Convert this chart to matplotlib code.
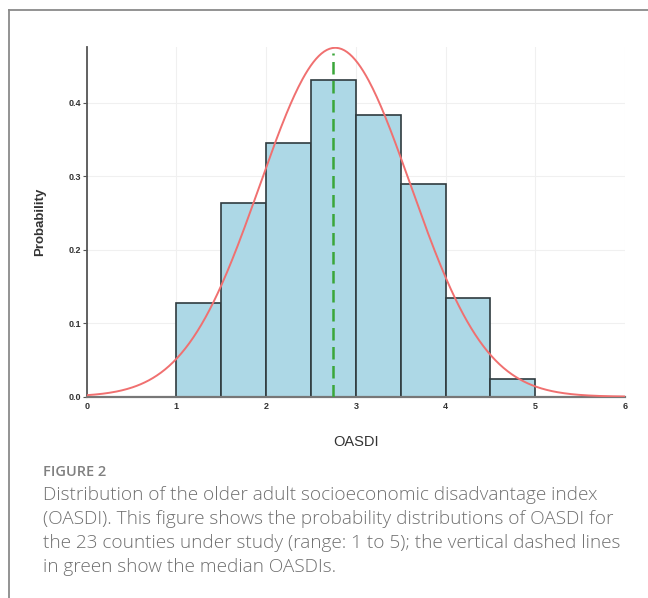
import numpy as np
import matplotlib
matplotlib.use("Agg")
import matplotlib.pyplot as plt
from matplotlib.lines import Line2D

# histogram of OASDI (probability density, bin width 0.5)
bin_edges = [1.0, 1.5, 2.0, 2.5, 3.0, 3.5, 4.0, 4.5, 5.0]
bin_heights = [0.128, 0.264, 0.346, 0.431, 0.384, 0.290, 0.134, 0.0245]

# fitted normal curve and median
fit_mean = 2.77
fit_sd = 0.84
median_oasdi = 2.75
median_line_top = 0.468

x_ticks = [0, 1, 2, 3, 4, 5, 6]
y_ticks = [0.0, 0.1, 0.2, 0.3, 0.4]

caption_head = "FIGURE 2"
caption_lines = [
    "Distribution of the older adult socioeconomic disadvantage index",
    "(OASDI). This figure shows the probability distributions of OASDI for",
    "the 23 counties under study (range: 1 to 5); the vertical dashed lines",
    "in green show the median OASDIs.",
]

W, H = 648, 598
fig = plt.figure(figsize=(W / 100, H / 100), dpi=100)
fig.patch.set_facecolor("white")

# card border (left + top)
fig.add_artist(Line2D([8.5 / W, 8.5 / W], [0, 1 - 10 / H], transform=fig.transFigure,
                      color="#8a8a8a", lw=1.3))
fig.add_artist(Line2D([8.5 / W, 1], [1 - 10 / H, 1 - 10 / H], transform=fig.transFigure,
                      color="#8a8a8a", lw=1.3))

left, right, top, bottom = 86.7, 625, 47, 396.7
ax = fig.add_axes([left / W, 1 - bottom / H, (right - left) / W, (bottom - top) / H])

widths = np.diff(bin_edges)
ax.bar(bin_edges[:-1], bin_heights, width=widths, align="edge",
       color="#add8e6", edgecolor="#2f3b3f", linewidth=1.2, zorder=2)

xs = np.linspace(0, 6, 400)
pdf = np.exp(-0.5 * ((xs - fit_mean) / fit_sd) ** 2) / (fit_sd * np.sqrt(2 * np.pi))
ax.plot(xs, pdf, color="#f07070", lw=1.4, zorder=3)

ax.vlines(median_oasdi, 0, median_line_top, color="#3aa63a", lw=1.8,
          linestyles=[(0, (5, 2.6))], zorder=4)

ax.set_xlim(0, 6)
ax.set_ylim(0, 0.476)
ax.set_xticks(x_ticks)
ax.set_yticks(y_ticks)
ax.set_xticklabels([str(t) for t in x_ticks])
ax.set_yticklabels([f"{t:.1f}" for t in y_ticks])
ax.grid(True, color="#f0f0f0", lw=0.8, zorder=0)
ax.set_axisbelow(True)

for s in ["top", "right"]:
    ax.spines[s].set_visible(False)
ax.spines["left"].set_color("#555555")
ax.spines["left"].set_linewidth(1.3)
ax.spines["bottom"].set_color("#777777")
ax.spines["bottom"].set_linewidth(1.6)

ax.tick_params(axis="y", length=3, width=0.8, color="#555555", pad=1,
               labelsize=6.5, labelcolor="#333333")
ax.tick_params(axis="x", length=0, pad=4, labelsize=6.5, labelcolor="#333333")
for lab in ax.get_xticklabels() + ax.get_yticklabels():
    lab.set_fontweight("bold")
    lab.set_family("Liberation Sans")

ax.set_ylabel("Probability", fontsize=9.5, fontweight="bold", color="#333333",
              labelpad=16, family="Liberation Sans")
ax.set_xlabel("OASDI", fontsize=10.5, color="#333333", labelpad=17,
              family="Liberation Sans")

# caption
fig.text(43 / W, 1 - 472 / H, caption_head, fontsize=10.5, color="#808080",
         family="Open Sans", fontweight="semibold", va="center", ha="left")
for i, line in enumerate(caption_lines):
    fig.text(43 / W, 1 - (495 + i * 24) / H, line, fontsize=13.7, color="#707070",
             family="Open Sans", fontweight="light", va="center", ha="left")

fig.savefig("out.png", dpi=100)
